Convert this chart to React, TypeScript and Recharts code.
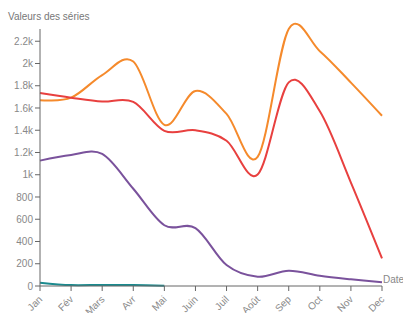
import { LineChart, Line, XAxis, YAxis } from "recharts";

document.body.style.margin = "0";

const months = ["Jan", "Fév", "Mars", "Avr", "Mai", "Juin", "Juil", "Août", "Sep", "Oct", "Nov", "Dec"];
const serieA = [1670, 1693, 1896, 2018, 1449, 1753, 1547, 1160, 2310, 2111, 1828, 1530];
const serieB = [1735, 1693, 1658, 1655, 1395, 1400, 1306, 1002, 1830, 1570, 930, 248];
const serieC = [1127, 1178, 1187, 874, 546, 520, 188, 83, 137, 92, 60, 33];
const serieD = [30, 8, 10, 8, 3, null, null, null, null, null, null, null];
const yTicks = [0, 200, 400, 600, 800, 1000, 1200, 1400, 1600, 1800, 2000, 2200];

const data = months.map((m, i) => ({ m, a: serieA[i], b: serieB[i], c: serieC[i], d: serieD[i] }));

// cardinal curve (tension 0), same as d3.curveCardinal
class Cardinal {
  _context: any;
  _k = 1 / 6;
  _line: any;
  _point = 0;
  _x0 = NaN; _x1 = NaN; _x2 = NaN;
  _y0 = NaN; _y1 = NaN; _y2 = NaN;
  constructor(context: any) {
    this._context = context;
  }
  areaStart() { this._line = 0; }
  areaEnd() { this._line = NaN; }
  lineStart() {
    this._x0 = this._x1 = this._x2 = this._y0 = this._y1 = this._y2 = NaN;
    this._point = 0;
  }
  seg(x: number, y: number) {
    this._context.bezierCurveTo(
      this._x1 + this._k * (this._x2 - this._x0),
      this._y1 + this._k * (this._y2 - this._y0),
      this._x2 + this._k * (this._x1 - x),
      this._y2 + this._k * (this._y1 - y),
      this._x2,
      this._y2
    );
  }
  lineEnd() {
    if (this._point === 2) this._context.lineTo(this._x2, this._y2);
    else if (this._point === 3) this.seg(this._x1, this._y1);
    if (this._line || (this._line !== 0 && this._point === 1)) this._context.closePath();
    this._line = 1 - this._line;
  }
  point(x: number, y: number) {
    x = +x; y = +y;
    if (this._point === 0) {
      this._point = 1;
      this._line ? this._context.lineTo(x, y) : this._context.moveTo(x, y);
    } else if (this._point === 1) {
      this._point = 2;
      this._x1 = x; this._y1 = y;
    } else {
      this._point = 3;
      this.seg(x, y);
    }
    this._x0 = this._x1; this._x1 = this._x2; this._x2 = x;
    this._y0 = this._y1; this._y1 = this._y2; this._y2 = y;
  }
}
const cardinal: any = (context: any) => new Cardinal(context);

const font = "'Liberation Sans', Arial, sans-serif";

const XTick = ({ x, y, payload }: any) => (
  <text
    x={x + 3}
    y={y + 7}
    textAnchor="end"
    fontSize={10}
    fontFamily={font}
    fill="#888"
    transform={`rotate(-45 ${x + 3} ${y + 7})`}
  >
    {payload.value}
  </text>
);

const fmt = (v: number) => (v >= 1000 ? `${v / 1000}k` : `${v}`);

export default function App() {
  return (
    <LineChart width={403} height={313} data={data} margin={{ top: 29, right: 21, left: 0, bottom: 0 }}>
      <XAxis
        dataKey="m"
        height={27}
        stroke="#666"
        tickSize={5}
        tick={<XTick />}
        interval={0}
        label={() => (
          <text x={383} y={283} fontSize={10} fontFamily={font} fill="#888">
            Date
          </text>
        )}
      />
      <YAxis
        width={40}
        domain={[0, 2300]}
        ticks={yTicks}
        tickFormatter={fmt}
        stroke="#666"
        tickSize={5}
        tick={{ fontSize: 10, fontFamily: font, fill: "#888" }}
        interval={0}
        label={() => (
          <text x={8} y={20} fontSize={10} fontFamily={font} fill="#777">
            Valeurs des séries
          </text>
        )}
      />
      <Line type={cardinal} dataKey="a" stroke="#f58a2c" strokeWidth={2} dot={false} isAnimationActive={false} />
      <Line type={cardinal} dataKey="b" stroke="#e8403f" strokeWidth={2} dot={false} isAnimationActive={false} />
      <Line type={cardinal} dataKey="c" stroke="#7a529c" strokeWidth={2} dot={false} isAnimationActive={false} />
      <Line type={cardinal} dataKey="d" stroke="#1b8a8e" strokeWidth={2} dot={false} isAnimationActive={false} />
    </LineChart>
  );
}
